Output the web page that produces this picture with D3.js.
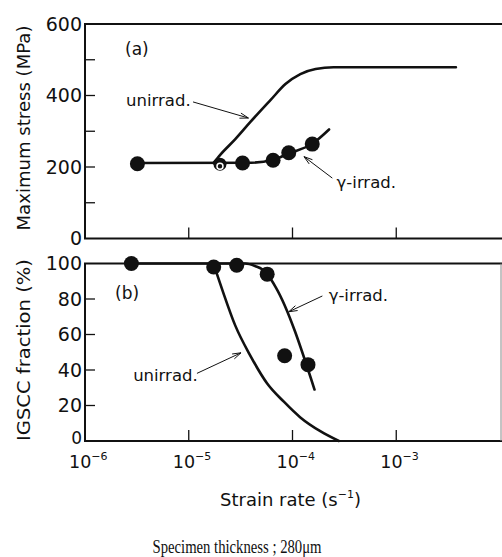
<!DOCTYPE html>
<html><head><meta charset="utf-8">
<script src="https://cdn.jsdelivr.net/npm/d3@7"></script>
<style>
html,body{margin:0;padding:0;background:#fff;}
svg{display:block;}
text{font-family:"DejaVu Sans",Arial,sans-serif;fill:#111;}
</style></head>
<body>
<svg id="c" width="502" height="557"></svg>
<script>
// ---- data ----
const xTickValues = [1e-6, 1e-5, 1e-4, 1e-3];
const xTickExponents = ["−6", "−5", "−4", "−3"];
const stressTicks = [0, 200, 400, 600];
const stressMinorTicks = [100, 200, 300, 400, 500];
const igsccTicks = [0, 20, 40, 60, 80, 100];

// (a) maximum stress
const gammaStressRate = [3.2e-6, 3.3e-5, 6.5e-5, 9.2e-5, 1.55e-4];
const gammaStressValue = [209, 211, 219, 240, 264];
const unirrStressMarkerRate = [2.0e-5];
const unirrStressMarkerValue = [208];
const gammaStressCurveRate = [3.2e-6, 4.0e-5, 6.5e-5, 9.2e-5, 1.55e-4, 2.25e-4];
const gammaStressCurveValue = [211, 212, 220, 238, 265, 305];
const unirrStressCurveRate = [1.73e-5, 2.01e-5, 2.81e-5, 3.93e-5, 6.13e-5, 8.55e-5, 1.19e-4, 1.67e-4, 2.49e-4, 3.76e-3];
const unirrStressCurveValue = [211, 234, 278, 326, 387, 432, 460, 474, 479, 479];

// (b) IGSCC fraction
const gammaIgsccRate = [2.8e-6, 1.74e-5, 2.9e-5, 5.7e-5, 8.4e-5, 1.41e-4];
const gammaIgsccValue = [100, 98, 99, 94, 48, 43];
const gammaIgsccCurveRate = [2.8e-6, 3.5e-5, 4.4e-5, 5.1e-5, 5.7e-5, 6.9e-5, 1.63e-4];
const gammaIgsccCurveValue = [100, 100, 98.5, 96.8, 94, 86.6, 29];
const unirrIgsccCurveRate = [1.73e-5, 2.11e-5, 2.81e-5, 3.93e-5, 5.7e-5, 8.3e-5, 1.19e-4, 1.87e-4, 2.8e-4];
const unirrIgsccCurveValue = [100, 85, 65, 48, 32.4, 22, 13.3, 5.4, 0];

// annotations (data coords)
const annTop = [
  {text: "unirrad.", x: 2.49e-6, y: 372, tail: [1.1e-5, 382], tip: [3.76e-5, 337]},
  {text: "γ-irrad.", x: 2.66e-4, y: 142, tail: [2.42e-4, 169], tip: [1.29e-4, 229]}
];
const annBot = [
  {text: "unirrad.", x: 2.91e-6, y: 34, tail: [1.2e-5, 38.1], tip: [3.19e-5, 49.7]},
  {text: "γ-irrad.", x: 2.23e-4, y: 79, tail: [1.94e-4, 81.7], tip: [9.2e-5, 72.8]}
];

// ---- layout ----
const svg = d3.select("#c");
const X0 = 85, X1 = 500;
const x = d3.scaleLog().domain([1e-6, 1e-2]).range([X0, X1]);
const yA = d3.scaleLinear().domain([0, 600]).range([238.5, 24]);
const yB = d3.scaleLinear().domain([0, 100]).range([441, 263.5]);
const ink = "#111";

function frame(y, top, bottom, rightBorder) {
  const g = svg.append("g");
  g.append("line").attr("x1", X0).attr("x2", X0).attr("y1", y(top)).attr("y2", y(bottom))
    .attr("stroke", ink).attr("stroke-width", 2);
  g.append("line").attr("x1", X0 - 1).attr("x2", 502).attr("y1", y(bottom)).attr("y2", y(bottom))
    .attr("stroke", ink).attr("stroke-width", 2);
  g.append("line").attr("x1", X0 - 1).attr("x2", 502).attr("y1", y(top)).attr("y2", y(top))
    .attr("stroke", ink).attr("stroke-width", 2);
  if (rightBorder) {
    g.append("line").attr("x1", 501).attr("x2", 501).attr("y1", y(top)).attr("y2", y(bottom))
      .attr("stroke", "#888").attr("stroke-width", 1);
  }
  g.selectAll(".xt").data(xTickValues.slice(1)).enter().append("line")
    .attr("x1", d => x(d)).attr("x2", d => x(d))
    .attr("y1", y(bottom)).attr("y2", y(bottom) - 11)
    .attr("stroke", ink).attr("stroke-width", 1.3);
  return g;
}

// ---- panel (a) ----
const gA = frame(yA, 600, 0, false);
gA.selectAll(".yt").data(stressMinorTicks).enter().append("line")
  .attr("x1", X0).attr("x2", X0 + 10).attr("y1", d => yA(d)).attr("y2", d => yA(d))
  .attr("stroke", ink).attr("stroke-width", 1.3);
gA.selectAll(".yl").data(stressTicks).enter().append("text")
  .attr("x", 82).attr("y", d => yA(d)).attr("dy", "0.36em")
  .attr("text-anchor", "end").attr("font-size", 19).text(d => d);

// ---- panel (b) ----
const gB = frame(yB, 100, 0, true);
gB.selectAll(".yt").data(igsccTicks.slice(1, -1)).enter().append("line")
  .attr("x1", X0).attr("x2", X0 + 10).attr("y1", d => yB(d)).attr("y2", d => yB(d))
  .attr("stroke", ink).attr("stroke-width", 1.3);
gB.selectAll(".yl").data(igsccTicks).enter().append("text")
  .attr("x", 82).attr("y", d => yB(d) - (d === 0 ? 3 : 0)).attr("dy", "0.36em")
  .attr("text-anchor", "end").attr("font-size", d => d === 0 ? 17 : 19).text(d => d);

// x tick labels
const xl = svg.selectAll(".xl").data(xTickValues).enter().append("text")
  .attr("x", d => x(d) - 16).attr("y", 468).attr("font-size", 17.5);
xl.append("tspan").text("10");
xl.append("tspan").attr("font-size", 11).attr("dy", -8).text((d, i) => xTickExponents[i]);

// ---- curves ----
const zip = (a, b) => a.map((v, i) => [v, b[i]]);
function curve(y, rates, vals) {
  const line = d3.line().x(d => x(d[0])).y(d => y(d[1])).curve(d3.curveMonotoneX);
  svg.append("path").attr("d", line(zip(rates, vals)))
    .attr("fill", "none").attr("stroke", ink).attr("stroke-width", 2.6)
    .attr("stroke-linejoin", "round").attr("stroke-linecap", "round");
}
curve(yA, gammaStressCurveRate, gammaStressCurveValue);
curve(yA, unirrStressCurveRate, unirrStressCurveValue);
curve(yB, gammaIgsccCurveRate, gammaIgsccCurveValue);
curve(yB, unirrIgsccCurveRate, unirrIgsccCurveValue);

// ---- markers ----
function dots(y, rates, vals) {
  svg.append("g").selectAll("circle").data(zip(rates, vals)).enter().append("circle")
    .attr("cx", d => x(d[0])).attr("cy", d => y(d[1])).attr("r", 7.5).attr("fill", ink);
}
dots(yA, gammaStressRate, gammaStressValue);
dots(yB, gammaIgsccRate, gammaIgsccValue);
const um = svg.append("g").selectAll("g").data(zip(unirrStressMarkerRate, unirrStressMarkerValue)).enter().append("g");
um.append("circle").attr("cx", d => x(d[0])).attr("cy", d => yA(d[1])).attr("r", 6.5).attr("fill", ink);
um.append("circle").attr("cx", d => x(d[0])).attr("cy", d => yA(d[1]) + 2).attr("r", 3)
  .attr("fill", ink).attr("stroke", "#fff").attr("stroke-width", 1.5);

// ---- annotations ----
function annotate(y, list) {
  list.forEach(a => {
    svg.append("text").attr("x", x(a.x)).attr("y", y(a.y)).attr("font-size", 16.5).text(a.text);
    const x1 = x(a.tail[0]), y1 = y(a.tail[1]), x2 = x(a.tip[0]), y2 = y(a.tip[1]);
    svg.append("line").attr("x1", x1).attr("y1", y1).attr("x2", x2).attr("y2", y2)
      .attr("stroke", ink).attr("stroke-width", 1);
    const ang = Math.atan2(y2 - y1, x2 - x1), L = 9, w = 0.3;
    const p = [[x2 - L * Math.cos(ang - w), y2 - L * Math.sin(ang - w)], [x2, y2],
               [x2 - L * Math.cos(ang + w), y2 - L * Math.sin(ang + w)]];
    svg.append("path").attr("d", d3.line()(p)).attr("fill", "none")
      .attr("stroke", ink).attr("stroke-width", 1);
  });
}
annotate(yA, annTop);
annotate(yB, annBot);

svg.append("text").attr("x", x(2.43e-6)).attr("y", yA(512)).attr("font-size", 17).text("(a)");
svg.append("text").attr("x", x(1.95e-6)).attr("y", yB(80)).attr("font-size", 17).text("(b)");

// ---- axis titles ----
svg.append("text").attr("transform", "translate(30,128) rotate(-90)")
  .attr("text-anchor", "middle").attr("font-size", 17)
  .attr("textLength", 205).attr("lengthAdjust", "spacingAndGlyphs").text("Maximum stress (MPa)");
svg.append("text").attr("transform", "translate(30,350) rotate(-90)")
  .attr("text-anchor", "middle").attr("font-size", 17)
  .attr("textLength", 182).attr("lengthAdjust", "spacingAndGlyphs").text("IGSCC fraction (%)");
const xt = svg.append("text").attr("x", 220).attr("y", 506).attr("font-size", 18);
xt.append("tspan").text("Strain rate (s");
xt.append("tspan").attr("font-size", 11).attr("dy", -8).text("−1");
xt.append("tspan").attr("dy", 8).text(")");
svg.append("text").attr("x", 237).attr("y", 553).attr("text-anchor", "middle")
  .attr("font-size", 18).style("font-family", "'Liberation Serif','Times New Roman',serif")
  .attr("textLength", 169).attr("lengthAdjust", "spacingAndGlyphs")
  .text("Specimen thickness ; 280μm");
</script>
</body></html>
